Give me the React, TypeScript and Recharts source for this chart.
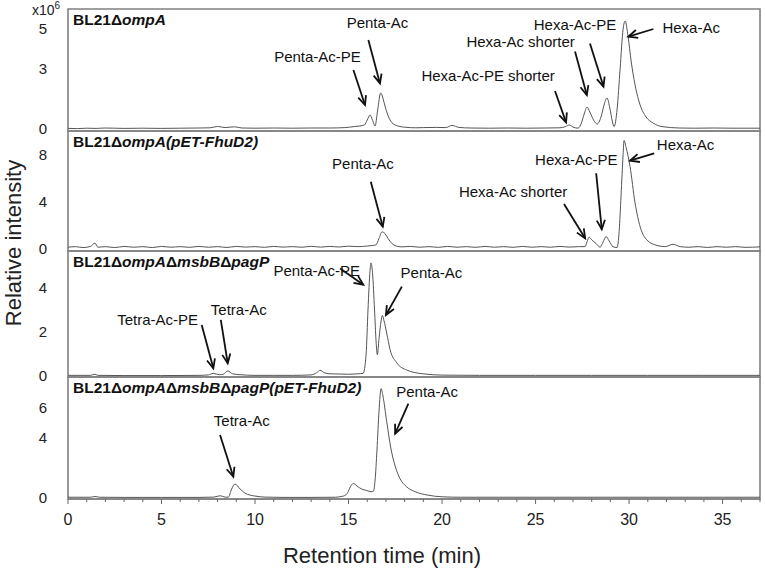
import React from "react"
import {
  Line,
  LineChart,
  ReferenceArea,
  ReferenceDot,
  ReferenceLine,
  XAxis,
  YAxis,
} from "recharts"

// retention time (min) / relative intensity (x10^6)
const traceOmpA: [number, number][] = [
  [0, 0.03], [0.5, 0.02], [1, 0.04], [1.5, 0.03], [2, 0.05], [3, 0.03], [4, 0.04], [5, 0.03],
  [6, 0.04], [7, 0.05], [7.6, 0.06], [8.0, 0.13], [8.4, 0.07], [8.9, 0.11], [9.3, 0.05], [10, 0.04],
  [11, 0.05], [12, 0.04], [13, 0.05], [14, 0.05], [14.8, 0.07], [15.3, 0.12], [15.6, 0.15],
  [15.85, 0.2], [16.0, 0.45], [16.15, 0.7], [16.28, 0.45], [16.42, 0.15], [16.55, 0.9],
  [16.72, 1.8], [16.85, 1.5], [16.95, 1.15], [17.1, 0.7], [17.25, 0.4], [17.5, 0.2], [18.0, 0.09],
  [18.6, 0.06], [19.0, 0.07], [19.7, 0.08], [20.2, 0.07], [20.53, 0.18], [20.9, 0.08], [21.5, 0.05],
  [22.5, 0.04], [23.5, 0.05], [24.5, 0.04], [25.5, 0.05], [26.3, 0.06], [26.6, 0.12], [26.8, 0.2],
  [27.0, 0.1], [27.27, 0.04], [27.45, 0.3], [27.6, 0.75], [27.75, 1.1], [27.9, 0.85], [28.1, 0.45],
  [28.29, 0.25], [28.5, 0.6], [28.66, 1.2], [28.82, 1.55], [28.98, 1.0], [29.1, 0.4], [29.2, 0.12],
  [29.36, 1.0], [29.52, 3.0], [29.68, 5.0], [29.79, 5.4], [29.95, 4.6], [30.11, 3.4], [30.32, 2.2],
  [30.59, 1.2], [30.91, 0.6], [31.28, 0.3], [31.76, 0.12], [32.7, 0.05], [33.5, 0.04], [34.5, 0.05],
  [35.5, 0.04], [37, 0.04],
]

const traceOmpAFhuD2: [number, number][] = [
  [0, 0.15], [0.4, 0.2], [0.8, 0.12], [1.2, 0.22], [1.44, 0.5], [1.6, 0.15], [2.0, 0.2], [2.5, 0.12],
  [3.0, 0.22], [3.5, 0.15], [4.0, 0.2], [4.5, 0.12], [5, 0.22], [5.5, 0.15], [6, 0.2], [6.5, 0.14],
  [7, 0.22], [7.5, 0.15], [8, 0.2], [8.5, 0.13], [9, 0.22], [9.5, 0.16], [10, 0.2], [10.5, 0.14],
  [11, 0.22], [11.5, 0.16], [12, 0.2], [12.5, 0.15], [13, 0.23], [13.5, 0.16], [14, 0.22],
  [14.5, 0.17], [15, 0.24], [15.5, 0.2], [16.0, 0.25], [16.3, 0.3], [16.47, 0.35], [16.63, 0.9],
  [16.79, 1.45], [16.95, 1.3], [17.11, 0.9], [17.33, 0.45], [17.54, 0.25], [17.86, 0.18],
  [18.3, 0.22], [18.8, 0.15], [19.3, 0.2], [19.8, 0.14], [20.3, 0.22], [20.8, 0.15], [21.3, 0.2],
  [21.8, 0.14], [22.3, 0.22], [22.8, 0.15], [23.3, 0.2], [23.8, 0.14], [24.3, 0.22], [24.8, 0.15],
  [25.3, 0.2], [25.8, 0.15], [26.3, 0.22], [26.8, 0.16], [27.3, 0.2], [27.65, 0.2], [27.75, 0.6],
  [27.86, 1.0], [28.02, 0.75], [28.24, 0.45], [28.45, 0.15], [28.61, 0.6], [28.77, 1.05],
  [28.93, 0.7], [29.14, 0.2], [29.36, 0.12], [29.47, 1.5], [29.57, 4.5], [29.68, 8.0], [29.73, 9.2],
  [29.84, 8.6], [30.05, 7.0], [30.32, 3.9], [30.59, 1.9], [30.96, 0.75], [31.5, 0.3], [31.93, 0.2],
  [32.35, 0.4], [32.73, 0.2], [33.2, 0.15], [33.7, 0.2], [34.2, 0.13], [34.7, 0.2], [35.2, 0.15],
  [35.7, 0.2], [36.2, 0.14], [37, 0.18],
]

const traceTriple: [number, number][] = [
  [0, 0.03], [1.2, 0.03], [1.44, 0.08], [1.6, 0.03], [3, 0.02], [5, 0.02], [7, 0.03], [7.5, 0.05],
  [7.77, 0.12], [8.1, 0.06], [8.3, 0.08], [8.54, 0.23], [8.8, 0.1], [9.2, 0.06], [10, 0.03],
  [11, 0.03], [12, 0.03], [13.0, 0.05], [13.3, 0.15], [13.48, 0.26], [13.7, 0.15], [14.0, 0.1],
  [14.5, 0.09], [15.0, 0.08], [15.5, 0.1], [15.78, 0.12], [15.94, 1.0], [16.04, 3.0], [16.15, 4.8],
  [16.2, 5.14], [16.28, 4.7], [16.39, 3.0], [16.47, 1.6], [16.54, 0.97], [16.63, 1.7], [16.74, 2.5],
  [16.81, 2.75], [16.9, 2.5], [17.04, 1.95], [17.22, 1.2], [17.58, 0.6], [18.11, 0.27], [18.98, 0.1],
  [20.05, 0.04], [22, 0.03], [25, 0.03], [28, 0.03], [31, 0.03], [34, 0.03], [37, 0.03],
]

const traceTripleFhuD2: [number, number][] = [
  [0, 0.05], [1.2, 0.05], [1.44, 0.1], [1.7, 0.05], [3, 0.04], [5, 0.04], [7, 0.04], [7.8, 0.06],
  [8.13, 0.15], [8.4, 0.06], [8.57, 0.05], [8.75, 0.6], [8.93, 0.93], [9.2, 0.6], [9.47, 0.32],
  [10.0, 0.13], [10.53, 0.06], [11.5, 0.04], [13, 0.04], [14.3, 0.05], [14.6, 0.1], [14.76, 0.14],
  [14.95, 0.35], [15.1, 0.75], [15.26, 0.97], [15.45, 0.8], [15.7, 0.6], [15.97, 0.5], [16.2, 0.42],
  [16.33, 0.45], [16.42, 1.2], [16.52, 3.2], [16.63, 5.8], [16.74, 7.3], [16.84, 6.8], [17.04, 5.1],
  [17.25, 3.4], [17.5, 2.1], [17.75, 1.3], [18.1, 0.75], [18.6, 0.4], [19.2, 0.2], [20.0, 0.08],
  [21, 0.05], [23, 0.05], [26, 0.05], [29, 0.05], [32, 0.05], [35, 0.05], [37, 0.05],
]

type Note = { text: string; at: [number, number]; from: [number, number]; to: [number, number] }

const notesOmpA: Note[] = [
  { text: "Penta-Ac", at: [16.55, 5.05], from: [16.06, 4.45], to: [16.68, 2.28] },
  { text: "Penta-Ac-PE", at: [13.34, 3.37], from: [15.26, 2.95], to: [15.88, 1.2] },
  { text: "Hexa-Ac-PE shorter", at: [22.46, 2.4], from: [26.04, 1.9], to: [26.63, 0.33] },
  { text: "Hexa-Ac shorter", at: [24.2, 4.1], from: [27.11, 3.87], to: [27.74, 1.7] },
  { text: "Hexa-Ac-PE", at: [27.11, 4.95], from: [27.91, 4.28], to: [28.63, 2.12] },
  { text: "Hexa-Ac", at: [33.32, 4.78], from: [31.3, 5.0], to: [29.96, 4.62] },
]

const notesOmpAFhuD2: Note[] = [
  { text: "Penta-Ac", at: [15.77, 6.75], from: [16.19, 5.7], to: [16.83, 1.89] },
  { text: "Hexa-Ac shorter", at: [23.8, 4.43], from: [26.52, 3.81], to: [27.65, 0.91] },
  { text: "Hexa-Ac-PE", at: [27.18, 7.12], from: [28.24, 6.42], to: [28.54, 1.67] },
  { text: "Hexa-Ac", at: [33.02, 8.39], from: [31.34, 8.1], to: [30.05, 7.48] },
]

const notesTriple: Note[] = [
  { text: "Penta-Ac-PE", at: [13.3, 4.53], from: [14.55, 4.88], to: [15.79, 4.15] },
  { text: "Penta-Ac", at: [19.43, 4.44], from: [17.85, 4.06], to: [17.0, 2.77] },
  { text: "Tetra-Ac", at: [9.13, 2.77], from: [8.17, 2.55], to: [8.54, 0.58] },
  { text: "Tetra-Ac-PE", at: [4.79, 2.32], from: [7.15, 2.32], to: [7.77, 0.35] },
]

const notesTripleFhuD2: Note[] = [
  { text: "Tetra-Ac", at: [9.29, 4.8], from: [8.13, 4.2], to: [8.84, 1.42] },
  { text: "Penta-Ac", at: [19.2, 6.73], from: [18.2, 6.29], to: [17.49, 4.29] },
]

const timeTicks = [0, 5, 10, 15, 20, 25, 30, 35]
const minuteTicks = [
  0, 1, 2, 3, 4, 5, 6, 7, 8, 9, 10, 11, 12, 13, 14, 15, 16, 17, 18, 19, 20, 21, 22, 23, 24, 25,
  26, 27, 28, 29, 30, 31, 32, 33, 34, 35, 36, 37,
]

const panels = [
  {
    title: [["BL21Δ", false], ["ompA", true]],
    trace: traceOmpA, notes: notesOmpA,
    top: 9, bottom: 131, pad: 9, domain: [-0.1, 6.0], yTicks: [0, 3, 5],
  },
  {
    title: [["BL21Δ", false], ["ompA(pET-FhuD2)", true]],
    trace: traceOmpAFhuD2, notes: notesOmpAFhuD2,
    top: 131, bottom: 251, pad: 4, domain: [-0.17, 10], yTicks: [0, 4, 8],
  },
  {
    title: [["BL21Δ", false], ["ompA", true], ["Δ", false], ["msbB", true], ["Δ", false], ["pagP", true]],
    trace: traceTriple, notes: notesTriple,
    top: 251, bottom: 377, pad: 4, domain: [-0.045, 5.68], yTicks: [0, 2, 4],
  },
  {
    title: [
      ["BL21Δ", false], ["ompA", true], ["Δ", false], ["msbB", true], ["Δ", false], ["pagP", true],
      ["(pET-FhuD2)", true],
    ],
    trace: traceTripleFhuD2, notes: notesTripleFhuD2,
    top: 377, bottom: 499, pad: 4, domain: [-0.067, 8.07], yTicks: [0, 4, 6],
  },
]

const frameColor = "#808080"

const Arrow = (p: any) => {
  const { x1, y1, x2, y2 } = p
  const ang = Math.atan2(y2 - y1, x2 - x1)
  const len = 10
  const spread = 0.42
  const ax = x2 - len * Math.cos(ang - spread)
  const ay = y2 - len * Math.sin(ang - spread)
  const bx = x2 - len * Math.cos(ang + spread)
  const by = y2 - len * Math.sin(ang + spread)
  return (
    <g>
      <line x1={x1} y1={y1} x2={x2} y2={y2} stroke="#111" strokeWidth={1.8} />
      <polyline
        points={`${ax},${ay} ${x2},${y2} ${bx},${by}`}
        fill="none"
        stroke="#111"
        strokeWidth={1.8}
      />
    </g>
  )
}

const TimeTick = (p: any) => {
  const { x, y, payload } = p
  const major = timeTicks.includes(payload.value)
  const axisY = y - 15
  return (
    <g>
      <line x1={x} x2={x} y1={axisY} y2={axisY + (major ? 5 : 3)} stroke="#666" />
      {major && (
        <text x={x} y={y} dy="0.71em" textAnchor="middle" fontSize={16} fill="#222">
          {payload.value}
        </text>
      )}
    </g>
  )
}

function Panel({ cfg, last }: any) {
  const data = cfg.trace.map(([t, v]: [number, number]) => ({ t, v }))
  const plotH = cfg.bottom - cfg.top
  const axisH = last ? 70 : 0
  const bottomPad = last ? 0 : 14
  const height = cfg.pad + plotH + axisH + bottomPad

  return (
    <div style={{ position: "absolute", left: 0, top: cfg.top - cfg.pad }}>
      <LineChart
        width={765}
        height={height}
        data={data}
        margin={{ top: cfg.pad, right: 5, bottom: bottomPad, left: 0 }}
      >
        <XAxis
          dataKey="t"
          type="number"
          domain={[0, 37]}
          allowDataOverflow
          ticks={minuteTicks}
          interval={0}
          hide={!last}
          height={axisH}
          tick={TimeTick}
          tickLine={false}
          tickSize={5}
          tickMargin={10}
          axisLine={{ stroke: frameColor, strokeWidth: 1.6 }}
        />
        <YAxis
          type="number"
          domain={cfg.domain}
          allowDataOverflow
          ticks={cfg.yTicks}
          interval={0}
          width={68}
          tickLine={false}
          axisLine={false}
          tickSize={6}
          tickMargin={15}
          tick={{ fontSize: 15, fill: "#222" }}
        />
        <ReferenceArea
          x1={0}
          x2={37}
          y1={cfg.domain[0]}
          y2={cfg.domain[1]}
          fill="none"
          stroke={frameColor}
          strokeWidth={1.6}
          ifOverflow="visible"
        />
        <Line
          dataKey="v"
          type="monotone"
          stroke="#555"
          strokeWidth={1}
          dot={false}
          isAnimationActive={false}
        />
        {cfg.notes.map((n: Note) => (
          <ReferenceLine
            key={"a" + n.text}
            segment={[{ x: n.from[0], y: n.from[1] }, { x: n.to[0], y: n.to[1] }]}
            shape={Arrow}
            ifOverflow="visible"
          />
        ))}
        {cfg.notes.map((n: Note) => (
          <ReferenceDot
            key={"t" + n.text}
            x={n.at[0]}
            y={n.at[1]}
            r={0}
            ifOverflow="visible"
            shape={(p: any) => (
              <text x={p.cx} y={p.cy} textAnchor="middle" fontSize={15} fill="#111">
                {n.text}
              </text>
            )}
          />
        ))}
        <text x={73} y={cfg.pad + 16} fontSize={15.5} fontWeight="bold" fill="#111">
          {cfg.title.map(([s, it]: [string, boolean], i: number) => (
            <tspan key={i} fontStyle={it ? "italic" : "normal"}>
              {s}
            </tspan>
          ))}
        </text>
        {cfg.top === 9 && (
          <text x={32} y={15} fontSize={14} fill="#222">
            x10<tspan dy={-6} fontSize={10}>6</tspan>
          </text>
        )}
        {last && (
          <text x={382} y={cfg.pad + plotH + 64} textAnchor="middle" fontSize={22} fill="#222">
            Retention time (min)
          </text>
        )}
      </LineChart>
    </div>
  )
}

export default function App() {
  return (
    <div
      style={{
        position: "absolute",
        left: 0,
        top: 0,
        width: 765,
        height: 571,
        background: "#fff",
        fontFamily: "'Liberation Sans', Arial, sans-serif",
      }}
    >
      {panels.map((cfg, i) => (
        <Panel key={i} cfg={cfg} last={i === panels.length - 1} />
      ))}
      <svg
        width={30}
        height={571}
        style={{ position: "absolute", left: 0, top: 0 }}
      >
        <text
          x={13}
          y={243}
          transform="rotate(-90 13 243)"
          textAnchor="middle"
          dominantBaseline="central"
          fontSize={22}
          fill="#222"
        >
          Relative intensity
        </text>
      </svg>
    </div>
  )
}
